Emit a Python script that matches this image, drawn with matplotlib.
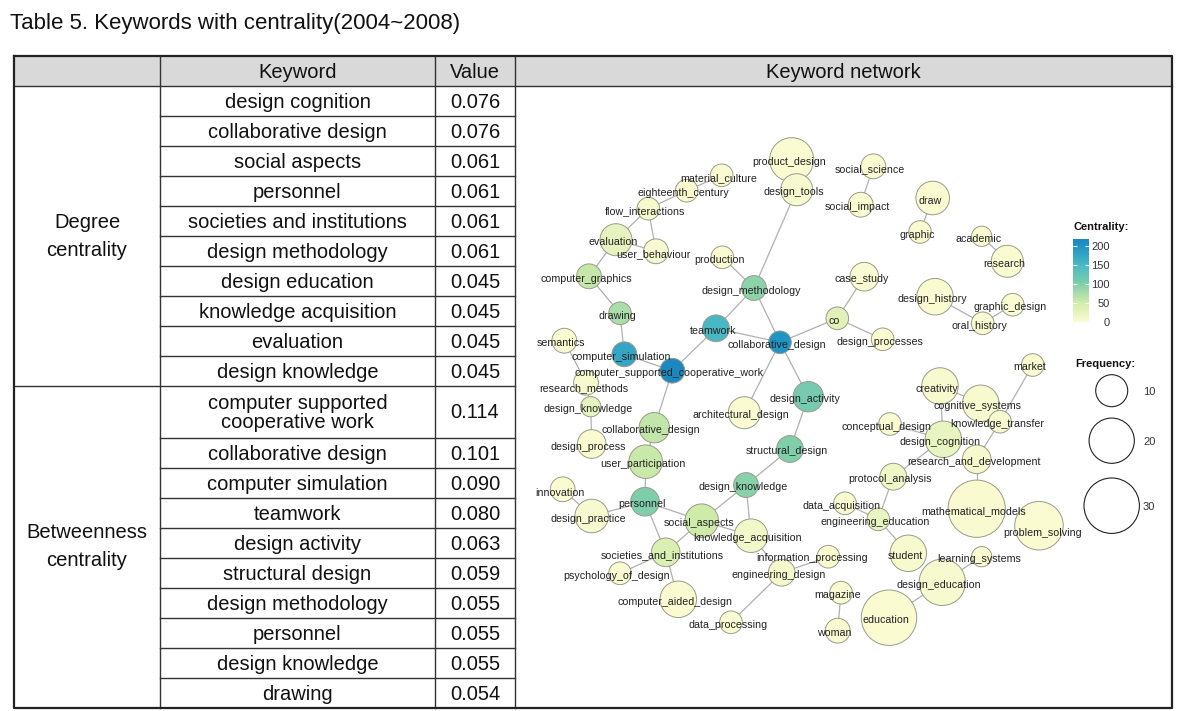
import matplotlib.pyplot as plt
from matplotlib.colors import LinearSegmentedColormap, Normalize
from matplotlib.cm import ScalarMappable

plt.rcParams['font.family'] = ['Liberation Sans', 'DejaVu Sans']

# ---- table data ----
title = "Table 5. Keywords with centrality(2004~2008)"
headers = ["Keyword", "Value", "Keyword network"]
groups = ["Degree\ncentrality", "Betweenness\ncentrality"]

degree_keywords = ["design cognition", "collaborative design", "social aspects", "personnel",
                   "societies and institutions", "design methodology", "design education",
                   "knowledge acquisition", "evaluation", "design knowledge"]
degree_values = ["0.076", "0.076", "0.061", "0.061", "0.061", "0.061", "0.045", "0.045", "0.045", "0.045"]

betw_keywords = ["computer supported\ncooperative work", "collaborative design", "computer simulation",
                 "teamwork", "design activity", "structural design", "design methodology",
                 "personnel", "design knowledge", "drawing"]
betw_values = ["0.114", "0.101", "0.090", "0.080", "0.063", "0.059", "0.055", "0.055", "0.055", "0.054"]

# ---- network data ----
node_names = ["product_design", "design_tools", "material_culture", "eighteenth_century",
              "flow_interactions", "evaluation", "user_behaviour", "production", "computer_graphics",
              "design_methodology", "social_science", "social_impact", "draw", "graphic", "academic",
              "research", "case_study", "co", "design_processes", "design_history", "graphic_design",
              "oral_history", "drawing", "teamwork", "collaborative_design", "semantics",
              "computer_simulation", "computer_supported_cooperative_work", "research_methods",
              "design_knowledge", "collaborative_design#2", "design_process", "user_participation",
              "architectural_design", "design_activity", "structural_design", "design_knowledge#2",
              "innovation", "personnel", "design_practice", "social_aspects", "knowledge_acquisition",
              "societies_and_institutions", "psychology_of_design", "computer_aided_design",
              "data_processing", "engineering_design", "information_processing", "magazine", "woman",
              "protocol_analysis", "data_acquisition", "engineering_education", "student", "market",
              "creativity", "cognitive_systems", "knowledge_transfer", "conceptual_design",
              "design_cognition", "research_and_development", "mathematical_models", "problem_solving",
              "learning_systems", "design_education", "education"]
node_freq = [19, 10, 5, 5, 5, 10, 6, 5, 6, 6, 6, 6, 11, 5, 4, 10, 8, 5, 5, 13, 5, 5, 5, 7, 5, 6,
             6, 6, 6, 4, 9, 8, 11, 10, 9, 7, 6, 6, 8, 11, 11, 11, 8, 5, 13, 5, 7, 5, 5, 6, 7, 5, 5,
             13, 5, 13, 13, 5, 5, 13, 8, 32, 23, 4, 21, 30]
node_centrality = [0, 5, 0, 2, 8, 25, 5, 0, 58, 92, 0, 0, 0, 0, 0, 0, 0, 32, 0, 0, 0, 3, 75, 150,
                   198, 0, 175, 215, 5, 25, 60, 0, 55, 0, 110, 100, 95, 0, 102, 5, 52, 12, 40, 0, 0,
                   0, 8, 0, 0, 0, 15, 0, 22, 5, 0, 5, 5, 5, 0, 22, 8, 3, 0, 0, 5, 0]

edges = [("product_design", "design_tools"), ("design_tools", "design_methodology"),
         ("material_culture", "eighteenth_century"), ("eighteenth_century", "flow_interactions"),
         ("flow_interactions", "evaluation"), ("flow_interactions", "user_behaviour"),
         ("evaluation", "user_behaviour"), ("evaluation", "computer_graphics"),
         ("computer_graphics", "drawing"), ("production", "design_methodology"),
         ("design_methodology", "teamwork"), ("design_methodology", "collaborative_design"),
         ("social_science", "social_impact"), ("draw", "graphic"), ("academic", "research"),
         ("case_study", "co"), ("co", "collaborative_design"), ("co", "design_processes"),
         ("design_history", "oral_history"), ("oral_history", "graphic_design"),
         ("drawing", "computer_simulation"), ("teamwork", "collaborative_design"),
         ("teamwork", "computer_supported_cooperative_work"),
         ("computer_simulation", "computer_supported_cooperative_work"),
         ("semantics", "research_methods"), ("research_methods", "design_knowledge"),
         ("design_knowledge", "design_process"),
         ("computer_supported_cooperative_work", "collaborative_design#2"),
         ("collaborative_design", "architectural_design"), ("collaborative_design", "design_activity"),
         ("design_activity", "structural_design"), ("structural_design", "design_knowledge#2"),
         ("collaborative_design#2", "user_participation"), ("user_participation", "personnel"),
         ("personnel", "design_practice"), ("design_practice", "innovation"),
         ("personnel", "social_aspects"), ("personnel", "societies_and_institutions"),
         ("social_aspects", "design_knowledge#2"), ("social_aspects", "knowledge_acquisition"),
         ("social_aspects", "societies_and_institutions"), ("design_knowledge#2", "knowledge_acquisition"),
         ("knowledge_acquisition", "engineering_design"),
         ("societies_and_institutions", "psychology_of_design"),
         ("societies_and_institutions", "computer_aided_design"),
         ("engineering_design", "information_processing"), ("engineering_design", "data_processing"),
         ("magazine", "woman"), ("data_acquisition", "engineering_education"),
         ("engineering_education", "protocol_analysis"), ("engineering_education", "student"),
         ("protocol_analysis", "design_cognition"), ("design_cognition", "creativity"),
         ("design_cognition", "conceptual_design"), ("creativity", "cognitive_systems"),
         ("cognitive_systems", "knowledge_transfer"), ("knowledge_transfer", "market"),
         ("knowledge_transfer", "research_and_development"),
         ("research_and_development", "mathematical_models"),
         ("design_education", "learning_systems"), ("design_education", "education")]

legend_freq = [10, 20, 30]
cbar_ticks = [0, 50, 100, 150, 200]

# ---- layout (pixel positions of the drawing) ----
layout = {
    "product_design": (791.7, 159.7), "design_tools": (796.7, 189.7), "material_culture": (721.7, 175.3),
    "eighteenth_century": (686.7, 190.7), "flow_interactions": (648.3, 208.7), "evaluation": (616, 239.7),
    "user_behaviour": (656, 251.3), "production": (722.3, 257.3), "computer_graphics": (589, 276.3),
    "design_methodology": (754, 288), "social_science": (873.3, 166.3), "social_impact": (860.7, 204.7),
    "draw": (932.7, 198), "graphic": (920, 232), "academic": (981.7, 236.3), "research": (1007.3, 261.3),
    "case_study": (864.3, 276.7), "co": (837.3, 318.3), "design_processes": (882.7, 339.3),
    "design_history": (935, 296.7), "graphic_design": (1012.7, 304.7), "oral_history": (982.7, 323.3),
    "drawing": (620, 313.3), "teamwork": (716, 328.3), "collaborative_design": (780, 342.3),
    "semantics": (564.3, 340.7), "computer_simulation": (624.3, 354.3),
    "computer_supported_cooperative_work": (672.3, 370.7), "research_methods": (586, 382.7),
    "design_knowledge": (590.7, 406.7), "collaborative_design#2": (654.3, 427.7),
    "design_process": (591.7, 444), "user_participation": (645.7, 461.7),
    "architectural_design": (744.3, 412.7), "design_activity": (808.3, 396.7),
    "structural_design": (790, 449), "design_knowledge#2": (746, 485), "innovation": (562.7, 489.3),
    "personnel": (645, 501.7), "design_practice": (591.7, 516), "social_aspects": (701.7, 520.7),
    "knowledge_acquisition": (751, 535.7), "societies_and_institutions": (665.7, 552.3),
    "psychology_of_design": (620, 573.3), "computer_aided_design": (678.3, 599.3),
    "data_processing": (731, 622.3), "engineering_design": (781.7, 572.7),
    "information_processing": (828.3, 556.7), "magazine": (841, 592.7), "woman": (837.7, 630.7),
    "protocol_analysis": (893.3, 476.7), "data_acquisition": (845, 503.3),
    "engineering_education": (878.3, 519.3), "student": (908.3, 553.3), "market": (1032.7, 365),
    "creativity": (940, 386), "cognitive_systems": (980.7, 403.3), "knowledge_transfer": (1000, 421.7),
    "conceptual_design": (890, 424), "design_cognition": (943.3, 439.3),
    "research_and_development": (976.7, 459.3), "mathematical_models": (976.7, 508.7),
    "problem_solving": (1039, 525.7), "learning_systems": (981.7, 556.7),
    "design_education": (942.3, 582.3), "education": (889, 617.7),
}
label_shift = {"information_processing": (-16, 1.5), "problem_solving": (4, 7),
               "research_methods": (-2, 5), "innovation": (-3, 4)}

W, H = 1192, 711
fig = plt.figure(figsize=(W / 100, H / 100), dpi=100)
ax = fig.add_axes([0, 0, 1, 1])
ax.set_xlim(0, W)
ax.set_ylim(H, 0)
ax.axis('off')

# ---- table ----
ax.text(10, 23, title, fontsize=16, va='center', ha='left', color='#111111')

cols = [14, 160, 435, 515, 1172]
top, head_bot, bottom = 56, 86, 708
line_c = '#333333'
ax.fill_between([cols[0], cols[-1]], top, head_bot, color='#d9d9d9', lw=0)
for j, h in enumerate(headers):
    ax.text((cols[j + 1] + cols[j + 2]) / 2, (top + head_bot) / 2 + 1, h, fontsize=14.5,
            ha='center', va='center', color='#111111')

row_h = 30
heights = [row_h] * 10 + [52] + [row_h] * 9
keywords = degree_keywords + betw_keywords
values = degree_values + betw_values
y = head_bot
for i, (k, v, h) in enumerate(zip(keywords, values, heights)):
    ax.text((cols[1] + cols[2]) / 2, y + h / 2 + 1, k, fontsize=14.5, ha='center', va='center',
            color='#111111', linespacing=0.95)
    ax.text((cols[2] + cols[3]) / 2, y + h / 2 + 1, v, fontsize=14.5, ha='center', va='center',
            color='#111111')
    if i == 10:
        sec_y = y
    y += h
    if i < len(keywords) - 1:
        x0 = cols[0] if i == 9 else cols[1]
        ax.plot([x0, cols[3]], [y, y], color=line_c, lw=1)

ax.text((cols[0] + cols[1]) / 2, (head_bot + sec_y) / 2, groups[0], fontsize=14.5,
        ha='center', va='center', linespacing=1.6, color='#111111')
ax.text((cols[0] + cols[1]) / 2, (sec_y + bottom) / 2, groups[1], fontsize=14.5,
        ha='center', va='center', linespacing=1.6, color='#111111')

for x in cols[1:-1]:
    ax.plot([x, x], [top, bottom], color=line_c, lw=1)
ax.plot([cols[0], cols[-1]], [head_bot, head_bot], color=line_c, lw=1)
ax.plot([cols[0], cols[-1], cols[-1], cols[0], cols[0]], [top, top, bottom, bottom, top],
        color='#222222', lw=1.6)

# ---- network ----
cmap = LinearSegmentedColormap.from_list('cent', [
    (0.0, '#fbfbd2'), (50 / 220, '#d2ecaa'), (100 / 220, '#80cfaa'),
    (150 / 220, '#4ab8c4'), (200 / 220, '#1f93c4'), (1.0, '#1a86be')])
norm = Normalize(0, 220)
size_k = 53.08  # points^2 per frequency unit

for a, b in edges:
    (x1, y1), (x2, y2) = layout[a], layout[b]
    ax.plot([x1, x2], [y1, y2], color='#b0b0b0', lw=0.9, zorder=2)

nx = [layout[n][0] for n in node_names]
ny = [layout[n][1] for n in node_names]
ax.scatter(nx, ny, s=[f * size_k for f in node_freq], c=node_centrality, cmap=cmap, norm=norm,
           edgecolors='#9a9a8a', linewidths=0.7, zorder=3)
for n in node_names:
    dx, dy = label_shift.get(n, (-3, 2.5))
    ax.text(layout[n][0] + dx, layout[n][1] + dy, n.split('#')[0], fontsize=7.7, ha='center',
            va='center', color='#222222', zorder=4)

# centrality legend
ax.text(1073, 227, "Centrality:", fontsize=8, fontweight='bold', ha='left', va='center', color='#111111')
cax = fig.add_axes([1073 / W, 1 - 322 / H, 16 / W, (322 - 238.5) / H])
cb = fig.colorbar(ScalarMappable(norm=norm, cmap=cmap), cax=cax)
cb.outline.set_visible(False)
cb.set_ticks(cbar_ticks)
cax.tick_params(axis='y', direction='in', length=3, color='#ffffff', width=0.8,
                left=True, right=True, labelsize=8, labelcolor='#333333', pad=15)
for t in cax.get_yticklabels():
    t.set_horizontalalignment('right')

# frequency legend
ax.text(1075, 364, "Frequency:", fontsize=8, fontweight='bold', ha='left', va='center', color='#111111')
leg_y = [390.7, 440.7, 505.7]
ax.scatter([1111.7] * 3, leg_y, s=[f * size_k for f in legend_freq], facecolors='white',
           edgecolors='#222222', linewidths=0.8, zorder=3)
for f, ly in zip(legend_freq, leg_y):
    ax.text(1143, ly + 1.5, str(f), fontsize=8, ha='left', va='center', color='#333333')

fig.savefig('out.png', dpi=100)
